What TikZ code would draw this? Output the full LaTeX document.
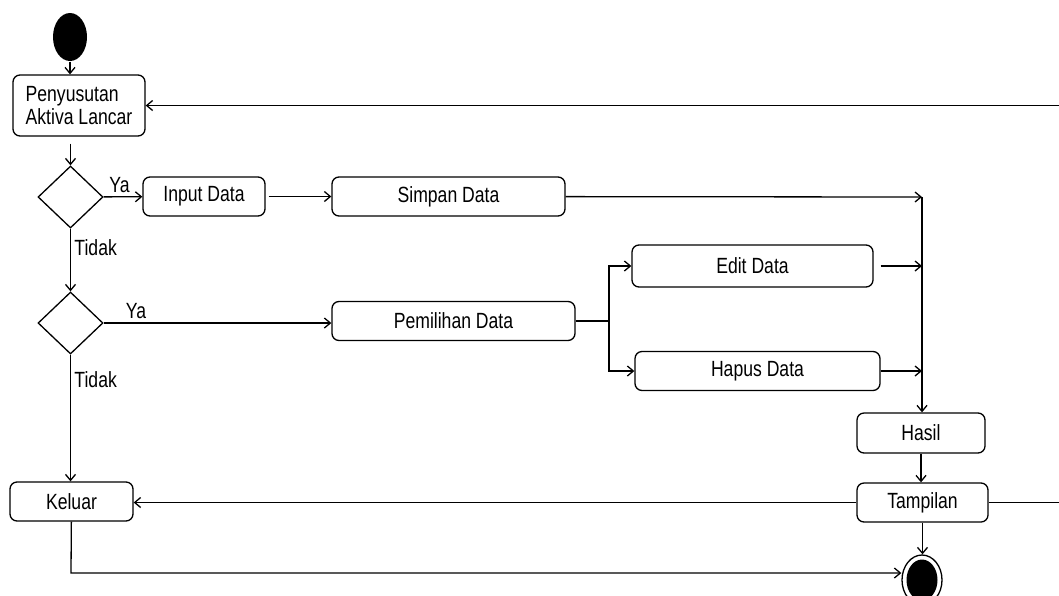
\documentclass[tikz,border=0pt]{standalone}
\usepackage{fontspec}
\setmainfont{Liberation Sans}[FakeStretch=0.8]
\usetikzlibrary{shapes.geometric,arrows.meta}

\begin{document}
\begin{tikzpicture}
    [x=1pt, y=-1pt, line width=1.3pt, >={Straight Barb[length=6pt,width=10pt]},
      every node/.style={font=\fontsize{22}{23}\selectfont},
      act/.style={draw, rounded corners=7pt, minimum height=39pt, inner sep=0pt},
      decision/.style={draw, diamond, minimum width=65pt, minimum height=62pt, inner sep=0pt},
      startdot/.style={ellipse, fill=black, minimum width=34pt, minimum height=48pt},
      endring/.style={draw, ellipse, minimum width=40pt, minimum height=50pt},
      enddot/.style={ellipse, fill=black, minimum width=31pt, minimum height=41pt}]
    \useasboundingbox (0,0) rectangle (1059,595);
    % aktivitas
    \node[startdot] (start) at (70,37) {};
    \node[act, minimum width=132pt, minimum height=61pt, align=left] (susut) at (79,105.5) {Penyusutan\\Aktiva Lancar};
    \node[decision] (d1) at (70.5,197) {};
    \node[act, minimum width=122pt] (input) at (204,196.5) {Input Data};
    \node[act, minimum width=233pt] (simpan) at (448.5,196.5) {Simpan Data};
    \node[decision] (d2) at (70.5,323) {};
    \node[act, minimum width=243pt] (pilih) at (453.5,321) {Pemilihan Data};
    \node[act, minimum width=241pt, minimum height=42pt] (edit) at (752.5,266) {Edit Data};
    \node[act, minimum width=245pt] (hapus) at (757.5,371) {Hapus Data};
    \node[act, minimum width=128pt, minimum height=40pt] (hasil) at (921,433) {Hasil};
    \node[act, minimum width=131pt] (tampil) at (922.5,502.5) {Tampilan};
    \node[act, minimum width=123pt] (keluar) at (71.5,501.5) {Keluar};
    \node[endring] (akhir) at (922,580) {};
    \node[enddot] (akhirdot) at (akhir) {};
    \coordinate (join) at (922,197);
    \coordinate (fork) at (609,321);
    \coordinate (kanan1) at (1059,105.5);
    \coordinate (kanan2) at (1059,502.5);
    \coordinate (bawah) at (71,573);
    % alur
    \draw[->] (start) -- (start |- susut.north);
    \draw[->, shorten <=7pt] (d1.north |- susut.south) -- (d1);
    \draw[->] (d1) -- node[pos=0.05, anchor=south west] {Ya} (input);
    \draw[->, shorten <=3pt] (input) -- (simpan);
    \draw[->] (simpan) -- (join);
    \draw[->] (join) -- (join |- hasil.north);
    \draw[->] (d1) -- node[pos=0.3, anchor=west] {Tidak} (d2);
    \draw[->] (d2.east) -- node[pos=0.08, anchor=south west] {Ya} (d2.east -| pilih.west);
    \draw (pilih) -- (fork);
    \draw[->] (fork) |- (edit);
    \draw[->] (fork) |- (hapus);
    \draw[->, shorten <=7pt] (edit) -- (edit -| join);
    \draw[->] (hapus) -- (hapus -| join);
    \draw[->] (hasil) -- (hasil |- tampil.north);
    \draw[->] (tampil.west) -- (tampil.west -| keluar.east);
    \draw (tampil) -- (kanan2);
    \draw[->] (kanan1) -- (susut);
    \draw[->] (d2.south) -- node[pos=0.2, anchor=west] {Tidak} (d2.south |- keluar.north);
    \draw[->] (keluar) -- (bawah) -- (bawah -| akhir.west);
    \draw[->] (tampil) -- (tampil |- akhir.north);
  \end{tikzpicture}
\end{document}
